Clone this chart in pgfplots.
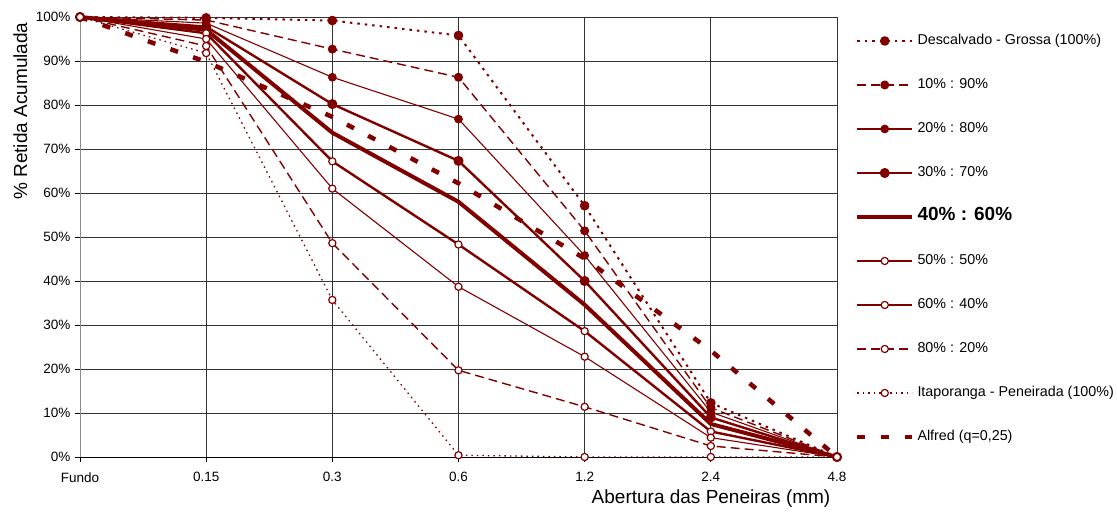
\documentclass[border=0pt]{standalone}
\usepackage{fontspec}
\setmainfont{Liberation Sans}
\usepackage{pgfplots}
\pgfplotsset{compat=1.18}
\definecolor{dr}{RGB}{128,0,0}
\begin{document}
\begin{tikzpicture}
\useasboundingbox (-80pt,-56pt) rectangle (1037pt,457pt);
\begin{axis}[
  scale only axis, width=757pt, height=440pt,
  xmin=0, xmax=6, ymin=0, ymax=100,
  xtick={0,1,2,3,4,5,6},
  xticklabels={Fundo,0.15,0.3,0.6,1.2,2.4,4.8},
  ytick={0,10,...,100},
  yticklabel={\pgfmathprintnumber{\tick}\%},
  /pgf/number format/assume math mode=true,
  tick label style={font=\fontsize{13.5}{15}\selectfont},
  yticklabel style={xshift=-1pt},
  xticklabel style={yshift=-7pt},
  axis x line*=bottom, axis y line*=left,
  x axis line style={black, line width=0.9pt, -},
  y axis line style={black!45, line width=0.9pt, -},
  tick align=outside, major tick length=5pt,
  tick style={black, line width=0.8pt},
  grid=major,
  major grid style={black!80, line width=0.9pt},
  clip=false,
  every axis x label/.style={at={(axis description cs:0.8336,-0.1068)}, anchor=base, font=\fontsize{19}{22}\selectfont},
  every axis y label/.style={at={(axis description cs:-0.070,0.786)}, rotate=90, anchor=base, font=\fontsize{19}{22}\selectfont},
  xlabel={Abertura das Peneiras (mm)},
  ylabel={\% Retida Acumulada},
  legend image code/.code={\draw[mark repeat=2,mark phase=2,#1] plot coordinates {(0pt,0pt) (27.5pt,0pt) (55pt,0pt)};},
  legend style={draw=none, fill=none, inner sep=0pt, outer sep=0pt,
    at={(axis description cs:1.0238,0.9614)}, anchor=north west,
    font=\fontsize{14.3}{16}\selectfont,
    nodes={text height=11pt, text depth=3pt, inner sep=0pt, inner xsep=3pt},
    row sep=30pt},
  legend cell align=left,
  every axis plot/.append style={color=dr, line cap=butt, line join=round},
  filled/.style={mark=*, mark size=3.8pt, mark options={solid, fill=dr}},
  open/.style={mark=*, mark size=3.6pt, mark options={solid, fill=white, draw=dr, line width=1.2pt}},
]
% Descalvado - Grossa (100%)
\addplot[line width=2pt, dash pattern=on 2.5pt off 5pt, filled] coordinates {(0,100) (1,99.8) (2,99.2) (3,95.8) (4,57.1) (5,12.3) (6,0)};
% 10:90
\addplot[line width=1.4pt, dash pattern=on 9pt off 5pt, filled] coordinates {(0,100) (1,99.3) (2,92.7) (3,86.3) (4,51.4) (5,11.2) (6,0)};
% 20:80
\addplot[line width=1.1pt, filled] coordinates {(0,100) (1,98.6) (2,86.3) (3,76.8) (4,45.8) (5,10.2) (6,0)};
% 30:70
\addplot[line width=2.4pt, filled] coordinates {(0,100) (1,97.8) (2,80.2) (3,67.3) (4,40.0) (5,9.0) (6,0)};
% 40:60
\addplot[line width=4pt, mark=none] coordinates {(0,100) (1,97.1) (2,73.7) (3,58.0) (4,34.6) (5,7.5) (6,0)};
% 50:50
\addplot[line width=2.4pt, open] coordinates {(0,100) (1,96.3) (2,67.2) (3,48.3) (4,28.6) (5,5.8) (6,0)};
% 60:40
\addplot[line width=1.1pt, open] coordinates {(0,100) (1,95.0) (2,61.0) (3,38.7) (4,22.8) (5,4.4) (6,0)};
% 80:20
\addplot[line width=1.4pt, dash pattern=on 9pt off 5pt, open] coordinates {(0,100) (1,93.4) (2,48.6) (3,19.7) (4,11.4) (5,2.5) (6,0)};
% Itaporanga - Peneirada (100%)
\addplot[line width=1.3pt, dash pattern=on 1.5pt off 4pt, open] coordinates {(0,100) (1,91.8) (2,35.7) (3,0.4) (4,0) (5,0) (6,0)};
% Alfred
\addplot[line width=4.5pt, dash pattern=on 8pt off 16pt, mark=none] coordinates {(0,100) (1,89.8) (2,77.3) (3,62.2) (4,45.1) (5,24.2) (6,0)};
\legend{Descalvado - Grossa (100\%), 10\% : 90\%, 20\% : 80\%, 30\% : 70\%, {\bfseries\fontsize{19}{22}\selectfont 40\% : 60\%}, 50\% : 50\%, 60\% : 40\%, 80\% : 20\%, Itaporanga - Peneirada (100\%), {Alfred (q=0,25)}}
\end{axis}
\end{tikzpicture}
\end{document}
